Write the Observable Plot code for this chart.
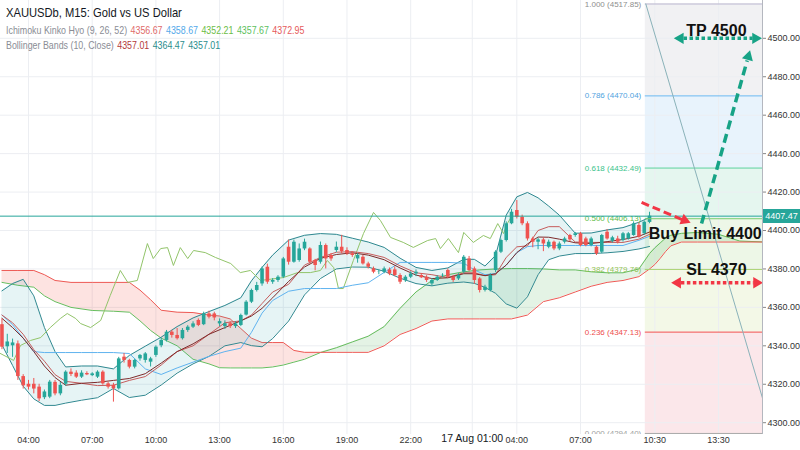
<!DOCTYPE html>
<html><head><meta charset="utf-8">
<script src="https://cdn.jsdelivr.net/npm/d3@7"></script>
<script src="https://cdn.jsdelivr.net/npm/@observablehq/plot@0.6"></script>
<style>
body{margin:0;background:#fff;font-family:"Liberation Sans",Arial,sans-serif;}
#wrap{position:relative;width:800px;height:450px;overflow:hidden;background:#fff;}
#legend{position:absolute;left:6px;top:6px;transform:scaleX(0.86);transform-origin:0 0;white-space:nowrap;}
#legend .t{font-size:13px;color:#131722;line-height:14px;height:17px;}
#legend .r{font-size:10.3px;color:#8a8d95;line-height:15px;height:15px;}
#legend span{margin-left:4px;}
#tag{position:absolute;left:763px;width:37px;height:14px;background:#26a69a;color:#fff;font-size:9px;line-height:14px;text-align:center;}
</style></head>
<body><div id="wrap"><div id="chart"></div><div id="legend"></div><div id="tag"></div></div>
<script>
// ---------- candles (15-minute bars), bar index 0 = 16 Aug 04:00 ----------
const firstBar = -5;
const opens = [4351.0,4339.5,4340.0,4341.0,4324.0,4320.0,4320.0,4318.5,4313.0,4313.3,4321.0,4315.0,4320.0,4326.3,4325.8,4323.7,4325.6,4324.5,4323.7,4326.3,4320.2,4319.4,4317.6,4334.1,4332.4,4328.9,4333.2,4332.4,4331.5,4335.0,4340.0,4342.8,4347.1,4345.4,4343.7,4348.0,4349.7,4353.2,4351.0,4356.6,
4356.6,4351.4,4350.0,4351.5,4350.0,4350.6,4356.0,4362.7,4368.8,4372.2,4380.9,4373.1,4374.0,4375.7,4391.3,4383.5,4384.4,4390.4,4390.4,4384.4,4383.5,4392.2,4387.0,4389.6,4391.3,4389.6,4387.9,4385.2,4386.1,4382.6,4380.1,4378.3,4378.3,4379.5,4379.5,4376.6,4373.9,4375.7,4377.4,4376.6,
4375.7,4372.2,4374.0,4376.4,4379.2,4375.7,4374.8,4378.3,4385.2,4380.0,4374.8,4368.8,4368.8,4379.2,4388.7,4394.8,4403.5,4410.4,4406.9,4403.5,4395.6,4393.9,4395.1,4391.3,4393.9,4390.4,4393.9,4397.4,4397.4,4398.3,4395.6,4392.2,4391.3,4388.7,4399.1,4394.4,4395.6,4394.8,4395.6,4397.4,4402.6,4398.3,4404.2];
const highs = [4354.0,4346.0,4343.5,4342.5,4325.0,4322.0,4323.0,4320.0,4317.0,4322.0,4322.0,4321.0,4327.0,4328.0,4327.0,4327.0,4326.5,4326.0,4327.0,4327.0,4321.0,4320.5,4334.0,4336.0,4333.0,4333.0,4335.5,4336.5,4334.0,4340.0,4344.0,4348.0,4348.0,4349.0,4349.0,4350.5,4352.5,4354.0,4357.5,4358.0,
4357.5,4354.0,4353.0,4352.5,4352.5,4356.5,4363.5,4369.5,4373.0,4381.0,4382.5,4375.0,4376.5,4386.0,4395.0,4395.0,4393.0,4395.5,4391.0,4385.0,4394.0,4393.0,4388.0,4394.0,4397.5,4391.0,4389.0,4388.0,4387.0,4383.5,4381.0,4379.5,4381.0,4380.5,4381.0,4377.5,4376.5,4378.5,4379.5,4377.5,
4376.5,4375.0,4376.5,4377.5,4380.0,4376.5,4377.5,4387.0,4386.5,4381.0,4375.5,4371.5,4377.5,4389.5,4395.5,4404.5,4411.0,4415.6,4408.0,4404.5,4396.5,4396.0,4396.0,4395.0,4394.5,4394.0,4396.5,4398.0,4399.0,4399.0,4396.5,4396.5,4392.0,4398.0,4400.5,4397.0,4397.0,4399.0,4399.0,4404.5,4404.0,4405.0,4409.5];
const lows = [4338.0,4336.0,4334.0,4322.0,4317.5,4317.0,4315.0,4311.0,4312.0,4312.5,4314.0,4314.0,4319.0,4324.0,4323.0,4323.0,4324.5,4324.0,4323.0,4319.5,4317.5,4310.7,4317.0,4331.0,4328.0,4328.0,4332.0,4331.0,4329.0,4334.0,4339.0,4342.0,4344.0,4343.0,4343.0,4347.0,4349.0,4350.0,4350.5,4354.0,
4353.0,4350.0,4348.5,4349.0,4349.0,4350.0,4355.5,4362.0,4368.0,4371.0,4372.0,4372.0,4373.0,4375.0,4382.0,4383.0,4383.5,4389.5,4382.5,4379.0,4382.5,4380.0,4384.0,4388.5,4388.0,4387.0,4386.0,4383.0,4382.0,4380.0,4377.5,4377.0,4377.5,4376.5,4376.0,4372.0,4373.0,4375.0,4376.0,4375.0,
4373.0,4371.0,4373.5,4375.5,4375.0,4373.0,4374.0,4377.5,4378.5,4372.0,4367.5,4368.0,4368.0,4378.0,4388.0,4394.0,4403.0,4406.0,4402.5,4394.5,4391.0,4390.0,4389.0,4390.5,4389.5,4389.5,4393.0,4394.0,4396.5,4391.5,4391.5,4391.5,4387.0,4388.0,4395.0,4393.5,4393.0,4394.0,4395.0,4397.0,4396.0,4397.5,4403.5];
const closes = [4339.3,4342.0,4341.5,4324.0,4319.2,4318.5,4317.5,4312.4,4316.0,4321.1,4315.0,4319.4,4326.3,4325.1,4323.7,4325.8,4324.9,4325.4,4326.3,4320.2,4318.5,4317.6,4333.2,4332.4,4328.9,4332.4,4335.0,4335.8,4333.2,4339.3,4342.8,4347.1,4345.4,4343.7,4348.0,4349.7,4351.4,4350.6,4356.6,4354.9,
4354.5,4352.6,4351.5,4350.0,4351.4,4355.8,4362.7,4368.8,4371.4,4380.0,4373.1,4374.0,4375.7,4385.2,4383.5,4393.9,4390.4,4393.9,4383.5,4381.8,4392.2,4385.2,4385.2,4391.3,4389.0,4387.9,4387.0,4387.0,4382.6,4380.9,4378.3,4378.4,4380.0,4377.4,4376.6,4373.1,4375.7,4377.4,4378.3,4375.4,
4374.0,4374.0,4375.7,4376.7,4375.7,4374.0,4376.6,4386.1,4379.2,4374.0,4368.8,4370.5,4376.6,4388.7,4394.8,4403.5,4409.5,4406.9,4403.5,4395.6,4393.9,4395.1,4393.0,4393.9,4390.4,4393.0,4395.6,4395.1,4398.3,4392.2,4392.2,4395.6,4387.8,4397.4,4395.6,4396.2,4393.9,4398.3,4398.3,4403.5,4396.5,4404.3,4407.47];

// ---------- Bollinger Bands (10, Close) and Ichimoku conversion/base lines ----------
const lineIdx = [-5,-3,-1,1,3,5,7,10,13,16,19,22,25,28,31,34,37,40,42,44,46,49,52,55,58,61,64,67,70,73,76,79,82,84,86,88,90,92,94,96,98,100,103,106,109,112,115,117];
const bbUpper = [4368.6,4372.4,4374.6,4366.0,4349.5,4337.0,4329.0,4329.5,4329.5,4328.0,4335.0,4339.8,4344.5,4350.0,4354.5,4357.8,4361.0,4365.0,4373.8,4380.8,4387.2,4395.0,4397.5,4398.4,4398.0,4396.0,4394.0,4391.2,4385.6,4380.8,4379.2,4380.5,4385.0,4385.0,4381.5,4387.0,4408.0,4417.5,4419.8,4417.0,4412.7,4408.0,4398.6,4398.7,4400.3,4401.5,4404.3,4406.8];
const bbBasis = [4354.3,4349.5,4344.0,4337.0,4329.5,4323.5,4319.5,4320.5,4321.0,4322.0,4323.0,4325.5,4331.0,4337.0,4341.0,4346.0,4349.5,4353.0,4355.5,4359.5,4365.0,4373.5,4381.0,4385.5,4387.5,4388.4,4387.2,4384.8,4380.5,4376.8,4375.0,4375.4,4377.5,4377.5,4376.5,4377.5,4382.0,4388.5,4393.0,4396.6,4396.5,4395.5,4393.6,4393.2,4394.2,4395.3,4397.0,4399.2];
const bbLower = [4340.5,4329.8,4319.0,4312.4,4309.0,4309.0,4310.2,4311.7,4313.0,4317.8,4313.1,4314.3,4319.6,4325.8,4330.6,4334.5,4340.0,4341.7,4340.1,4339.5,4343.8,4352.9,4366.5,4375.0,4380.0,4381.0,4380.9,4378.8,4375.2,4372.4,4371.2,4372.6,4373.2,4372.5,4370.4,4367.3,4361.8,4359.6,4365.5,4377.0,4384.8,4386.7,4388.0,4388.0,4388.4,4389.1,4390.4,4391.7];
const tenkan = [4356.0,4352.0,4346.0,4338.0,4332.0,4325.0,4321.5,4320.5,4319.3,4319.5,4322.0,4324.0,4330.0,4337.0,4340.0,4346.0,4352.0,4353.0,4356.0,4362.0,4368.0,4372.0,4382.0,4386.0,4388.7,4389.0,4388.0,4386.0,4381.6,4378.0,4377.0,4375.5,4378.0,4378.0,4376.5,4377.0,4386.0,4391.5,4392.0,4400.0,4402.0,4402.0,4394.0,4393.8,4393.8,4393.8,4395.5,4398.0];
const kijun = [4356.0,4351.0,4344.0,4337.0,4336.5,4336.5,4336.5,4336.5,4336.5,4336.5,4336.0,4328.0,4325.1,4328.5,4331.5,4334.5,4337.0,4338.8,4347.0,4357.0,4363.6,4368.4,4369.8,4369.8,4369.8,4371.5,4372.8,4378.2,4383.4,4383.4,4383.4,4383.4,4383.0,4379.5,4377.0,4377.6,4382.0,4388.5,4391.6,4392.2,4392.2,4392.2,4392.2,4392.2,4392.2,4392.2,4394.9,4397.0];

// ---------- Ichimoku lagging span ----------
const chikouIdx = [-5.3,-2.8,-1.5,0.4,2.3,4.1,6.0,7.3,8.9,9.8,11.7,13.6,15.4,17.3,18.7,20.5,22.4,23.5,24.9,26.2,27.3,28.6,30.0,31.1,33.3,35.2,38.1,39.9,41.8,43.7,48.0,50.7,53.1,55.0,56.3,57.5,58.4,59.3,61.2,63.1,65.0,66.3,68.2,70.6,72.5,75.2,76.7,77.6,79.1,81.0,82.0,83.8,85.7,87.0,88.4,89.5,90.2,91.0];
const chikouVal = [4336.0,4332.4,4340.2,4342.8,4344.3,4349.5,4354.2,4356.8,4354.2,4351.6,4349.5,4353.2,4366.2,4379.2,4373.0,4374.0,4393.2,4385.4,4390.6,4391.1,4381.8,4391.1,4385.4,4389.6,4388.5,4386.0,4382.8,4378.1,4379.2,4374.0,4375.5,4378.1,4378.1,4379.2,4384.4,4380.7,4369.8,4369.8,4384.4,4398.4,4409.4,4405.2,4396.4,4393.8,4391.2,4394.8,4395.8,4390.6,4395.8,4388.5,4399.0,4393.8,4397.4,4395.8,4403.6,4398.4,4403.6,4407.3];

// ---------- Ichimoku cloud (leading spans) ----------
const cloudIdx = [-5,-2,1,3,5,8,12,16,19,21,23,25,28,31,34,36,38,40,42,44,46,48,50,52,55,58,61,64,67,70,73,76,79,82,85,88,91,94,97,100,103,106,109,112,115,117,118,119,120,121,123,126,130,134,139];
const senkouA = [4373.0,4371.5,4370.5,4366.0,4363.0,4360.0,4358.4,4358.0,4357.5,4353.0,4348.0,4344.0,4340.0,4333.0,4330.6,4328.6,4328.5,4328.5,4328.5,4328.5,4329.0,4330.0,4331.5,4333.0,4336.5,4339.0,4342.0,4345.0,4350.0,4359.5,4368.0,4374.0,4377.0,4378.5,4379.5,4380.0,4380.2,4380.2,4380.0,4379.5,4379.5,4378.5,4378.0,4378.0,4380.0,4388.0,4391.0,4393.5,4396.0,4397.5,4398.5,4399.0,4398.0,4394.5,4394.0];
const senkouB = [4379.2,4379.2,4379.2,4377.0,4374.0,4373.0,4373.0,4373.0,4373.0,4369.0,4364.0,4358.5,4357.5,4357.3,4356.0,4355.5,4354.0,4349.0,4344.0,4341.7,4341.7,4341.7,4337.6,4336.6,4336.6,4336.6,4336.6,4336.6,4340.0,4345.9,4349.0,4352.9,4354.0,4354.0,4354.0,4354.0,4354.0,4356.0,4363.0,4365.0,4368.0,4371.0,4373.0,4374.0,4376.0,4380.0,4382.3,4385.5,4389.0,4392.0,4394.0,4394.0,4394.0,4394.0,4394.0];

// ---------- Fibonacci retracement ----------
const fibStartIdx = 116.2;
const fibLevels = [1, 0.786, 0.618, 0.5, 0.382, 0.236, 0];
const fibPrices = [4517.85, 4470.04, 4432.49, 4406.13, 4379.76, 4347.13, 4294.40];
const fibLineColors = ["#b9b6cf","#6cb8ee","#5ccf9f","#79cc6e","#a6d26d","#f0524f","#a9a9a9"];
const fibTextColors = ["#8e8e8e","#4fa3e0","#39c38a","#5dbd45","#93c455","#ee4c4c","#a0a0a0"];
const fibZoneColors = ["#f1f1f3","#e8f3fc","#e5f6ef","#edf7e7","#f3f8e7","#fbe7ea"];
const fibLineIdx = [116.3, 138.3];
const fibLinePrice = [4517.85, 4312.6];

// ---------- drawn annotations ----------
const noteText = ["TP 4500", "Buy Limit 4400", "SL 4370"];
const noteIdx = [129.6, 127.5, 129.6];
const notePrice = [4504.0, 4398.3, 4379.6];

// ---------- axes ----------
const yTicks = [4300,4320,4340,4360,4380,4400,4420,4440,4460,4480,4500];
const xTickIdx = [0,12,24,36,48,60,72,83.6,92,104,118,130];
const xTickLabels = ["04:00","07:00","10:00","13:00","16:00","19:00","22:00","17 Aug 01:00","04:00","07:00","10:30","13:30"];

// ---------- legend ----------
const legendTitle = "XAUUSDb, M15: Gold vs US Dollar";
const ichiLabel = "Ichimoku Kinko Hyo (9, 26, 52)";
const ichiValues = ["4356.67","4358.67","4352.21","4357.67","4372.95"];
const ichiColors = ["#e06a6a","#53a9ea","#6cbd46","#5cbf60","#e65a5a"];
const bbLabel = "Bollinger Bands (10, Close)";
const bbValues = ["4357.01","4364.47","4357.01"];
const bbColors = ["#b33a3a","#2a8d8d","#2a8d8d"];

// ---------- build ----------
const up = "#26a69a", down = "#ef5350";
const candles = opens.map((o, k) => ({i: firstBar + k, o, h: highs[k], l: lows[k], c: closes[k]}));
const col = d => d.c >= d.o ? up : down;
const lines = lineIdx.map((i, k) => ({i, u: bbUpper[k], m: bbBasis[k], l: bbLower[k], t: tenkan[k], kj: kijun[k]}));
const chikou = chikouIdx.map((i, k) => ({i, v: chikouVal[k]}));
const cloud = cloudIdx.map((i, k) => ({i, a: senkouA[k], b: senkouB[k]}));
const fib = fibLevels.map((lv, k) => ({lv, p: fibPrices[k], lc: fibLineColors[k], tc: fibTextColors[k]}));
const fibZones = fibZoneColors.map((c, k) => ({hi: fibPrices[k], lo: fibPrices[k + 1], c}));
const fibLine = fibLineIdx.map((i, k) => ({i, p: fibLinePrice[k]}));
const notes = noteText.map((t, k) => ({t, i: noteIdx[k], p: notePrice[k]}));
const xTicks = xTickIdx.map((i, k) => ({i, t: xTickLabels[k]}));
const lastClose = closes[closes.length - 1];
const xDomain = [-5.275, 138.28];
const yDomain = [4293.86, 4519.67];

// arrows (bar index / price)
const green = "#17a386", red = "#f23645";
const tpArrow = [{x1: 123.4, x2: 136.4, y1: 4500, y2: 4500}];
const slArrow = [{x1: 122.9, x2: 136.6, y1: 4372.8, y2: 4372.8}];
const upArrow = [{x1: 126.8, y1: 4403.6, x2: 135.4, y2: 4488.5}];
const redArrow = [{x1: 115.5, y1: 4414.6, x2: 123.2, y2: 4405.6}];
const heads = [
  {i: 122.8, p: 4500, r: 270, c: green}, {i: 136.96, p: 4500, r: 90, c: green},
  {i: 122.3, p: 4372.8, r: 270, c: red}, {i: 137.15, p: 4372.8, r: 90, c: red},
  {i: 135.6, p: 4490.5, r: 16, c: green}, {i: 123.6, p: 4405.3, r: 112, c: red}
];

const chart = Plot.plot({
  width: 800, height: 450,
  marginTop: 0, marginRight: 38, marginBottom: 16, marginLeft: 0,
  style: {fontFamily: '"Liberation Sans", Arial, sans-serif', background: "#fff", overflow: "visible"},
  x: {domain: xDomain, axis: null},
  y: {domain: yDomain},
  color: {type: "identity"},
  marks: [
    Plot.rect(fibZones, {x1: () => fibStartIdx, x2: () => 140, y1: "lo", y2: "hi", fill: "c", clip: true}),
    Plot.ruleY(yTicks, {stroke: "#eceef2", strokeWidth: 1}),
    Plot.ruleX(xTickIdx, {stroke: "#eceef2", strokeWidth: 1}),
    // cloud
    Plot.areaY(cloud, {x: "i", y1: "a", y2: d => Math.max(d.a, d.b), fill: "#f44336", fillOpacity: 0.15, clip: true}),
    Plot.areaY(cloud, {x: "i", y1: "b", y2: d => Math.max(d.a, d.b), fill: "#4caf50", fillOpacity: 0.15, clip: true}),
    Plot.line(cloud, {x: "i", y: "a", stroke: "#67bd5e", strokeWidth: 1, clip: true}),
    Plot.line(cloud, {x: "i", y: "b", stroke: "#ee5a55", strokeWidth: 1, clip: true}),
    // bollinger
    Plot.areaY(lines, {x: "i", y1: "l", y2: "u", fill: "#1f9aa0", fillOpacity: 0.11, clip: true}),
    Plot.line(lines, {x: "i", y: "u", stroke: "#2f8890", strokeWidth: 1, clip: true}),
    Plot.line(lines, {x: "i", y: "l", stroke: "#2f8890", strokeWidth: 1, clip: true}),
    // ichimoku lines
    Plot.line(chikou, {x: "i", y: "v", stroke: "#92c46a", strokeWidth: 1, clip: true}),
    Plot.line(lines, {x: "i", y: "kj", stroke: "#5fb3ef", strokeWidth: 1, clip: true}),
    Plot.line(lines, {x: "i", y: "t", stroke: "#c65c5c", strokeWidth: 1, clip: true}),
    Plot.line(lines, {x: "i", y: "m", stroke: "#7e2a2a", strokeWidth: 1, clip: true}),
    // candles
    Plot.ruleX(candles, {x: "i", y1: "l", y2: "h", stroke: col, strokeWidth: 1}),
    Plot.ruleX(candles, {x: "i", y1: "o", y2: "c", stroke: col, strokeWidth: 3.6}),
    // fib lines + labels
    Plot.ruleY(fib, {y: "p", x1: () => fibStartIdx, x2: () => 140, stroke: "lc", strokeWidth: 1, clip: true}),
    Plot.text(fib, {x: () => fibStartIdx, y: "p", text: d => `${d.lv.toFixed(3)} (${d.p.toFixed(2)})`, textAnchor: "end", dx: -4, fill: "tc", fontSize: 8, clip: true}),
    Plot.line(fibLine, {x: "i", y: "p", stroke: "#8ab2b9", strokeWidth: 1, clip: true}),
    // last price line
    Plot.ruleY([lastClose], {stroke: "#26a69a", strokeWidth: 1}),
    // annotations
    Plot.link(tpArrow, {x1: "x1", y1: "y1", x2: "x2", y2: "y2", stroke: green, strokeWidth: 3.5, strokeDasharray: "3.5,2.5"}),
    Plot.link(slArrow, {x1: "x1", y1: "y1", x2: "x2", y2: "y2", stroke: red, strokeWidth: 3.5, strokeDasharray: "3.5,2.5"}),
    Plot.link(upArrow, {x1: "x1", y1: "y1", x2: "x2", y2: "y2", stroke: green, strokeWidth: 3.5, strokeDasharray: "9,5"}),
    Plot.link(redArrow, {x1: "x1", y1: "y1", x2: "x2", y2: "y2", stroke: red, strokeWidth: 3, strokeDasharray: "8,4"}),
    Plot.dot(heads, {x: "i", y: "p", symbol: "triangle", r: 4.2, fill: "c", stroke: null, rotate: "r"}),
    Plot.text(notes, {x: "i", y: "p", text: "t", fontSize: 16, fontWeight: "bold", fill: "#111"}),
    // axes
    Plot.ruleX([xDomain[1]], {stroke: "#b4b7bf", strokeWidth: 1}),
    Plot.axisY(yTicks, {anchor: "right", tickSize: 3, tickPadding: 2, tickFormat: d => d.toFixed(2), fontSize: 9, fill: "#333", stroke: "#888", label: null}),
    Plot.text(xTicks.filter(d => !d.t.includes("Aug")), {x: "i", text: "t", frameAnchor: "bottom", dy: 8.5, fontSize: 9, fill: "#333"}),
    Plot.text(xTicks.filter(d => d.t.includes("Aug")), {x: "i", text: "t", frameAnchor: "bottom", dy: 7.5, fontSize: 10.5, fill: "#131722"})
  ]
});
document.getElementById("chart").appendChild(chart);

// legend
const lg = document.getElementById("legend");
const row = (label, vals, cols, cls) => {
  const d = document.createElement("div"); d.className = cls; d.textContent = label;
  vals.forEach((v, k) => { const s = document.createElement("span"); s.textContent = v; s.style.color = cols[k]; d.appendChild(s); });
  return d;
};
const t = document.createElement("div"); t.className = "t"; t.textContent = legendTitle; lg.appendChild(t);
lg.appendChild(row(ichiLabel, ichiValues, ichiColors, "r"));
lg.appendChild(row(bbLabel, bbValues, bbColors, "r"));

// last price tag on the price scale
const tag = document.getElementById("tag");
tag.textContent = lastClose.toFixed(2);
tag.style.top = (chart.scale("y").apply(lastClose) - 7) + "px";
</script>
</body></html>
